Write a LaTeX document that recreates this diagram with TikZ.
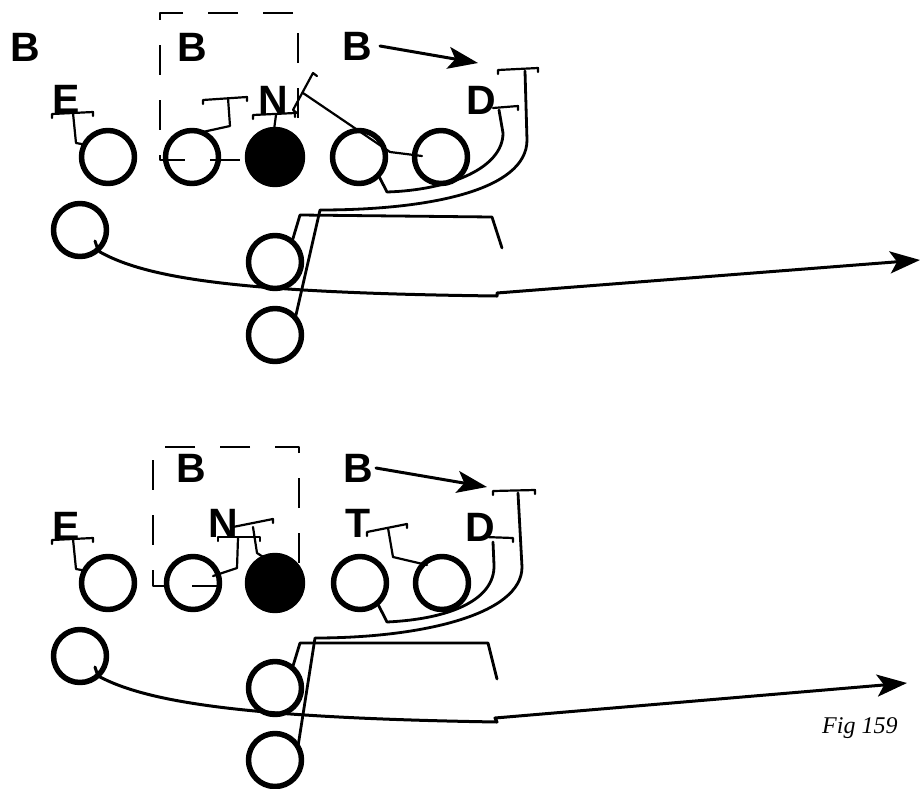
\documentclass[tikz,border=0pt]{standalone}
\usepackage{fontspec}
\setmainfont{Liberation Sans}
\newfontfamily\figfont{Liberation Serif}
\usetikzlibrary{arrows.meta}

\begin{document}
\begin{tikzpicture}[x=1pt, y=-1pt, line cap=round, line join=round,
  player/.style={circle, draw, line width=5.5pt, minimum size=53pt, inner sep=0pt, outer sep=0pt},
  ctr/.style={player, fill=black, minimum size=55pt},
  lbl/.style={inner sep=0pt, font=\fontsize{41}{49}\selectfont\bfseries},
  zone/.style={line width=2.2pt, line cap=butt, dash pattern=on 30pt off 25pt},
  blk/.style={line width=2.2pt},
  route/.style={line width=2.8pt},
  go/.style={line width=3pt, -{Stealth[length=30pt, width=22pt, inset=7pt]}}]

  %% ==== upper play ====
  \draw[zone] (298,118) -- (298,13) -- (160,13) -- (160,160) -- (247,160);

  % offence
  \node[player] (le1) at (108,157) {};
  \node[player] (lg1) at (192,157) {};
  \node[ctr]    (c1)  at (275,157) {};
  \node[player] (rg1) at (359,157) {};
  \node[player] (rt1) at (441,157) {};
  \node[player] (hb1) at (80,230) {};
  \node[player] (qb1) at (275,262) {};
  \node[player] (fb1) at (275,335) {};

  % defence
  \node[lbl] (bl1) at (25,47) {B};
  \node[lbl] (bm1) at (192,47) {B};
  \node[lbl] (br1) at (357,46) {B};
  \node[lbl] (e1)  at (66,99) {E};
  \node[lbl] (n1)  at (273,100) {N};
  \node[lbl] (d1)  at (481,100) {D};
  \coordinate (bgo1) at (478,63);
  \draw[go] ([xshift=8pt]br1.east) -- (bgo1);

  % blocks
  \draw[blk] (le1.152) -- (76,143) -- (73,113);
  \draw[blk] (52,118) -- (52,114) -- (93,112) -- (93,116);
  \draw[blk] (lg1.69) -- (230,126) -- (228,98);
  \draw[blk] (203,104) -- (203,100) -- (247,97) -- (247,101);
  \draw[blk] (c1.92) -- (276,115);
  \draw[blk] (253,119) -- (253,115) -- (295,113) -- (295,117);
  \draw[blk] (422,156) -- (390,152) -- (303,93);
  \draw[blk] (297,113) -- (293,110) -- (313,73) -- (317,76);

  % pulling guard on D
  \draw[route] (rg1.-43) -- (387,192) .. controls (450,190) and (503,168) .. (503,133) -- (499,110);
  \draw[blk] (493,108) -- (518,106) -- (518,110);

  % fullback around
  \draw[blk] (498,74) -- (498,70) -- (538,68) -- (538,72);
  \draw[route] (fb1.40) -- (320,210) .. controls (430,210) and (527,190) .. (527,140) -- (525,71);

  % qb
  \draw[route] (qb1.50) -- (300,215) -- (492,217) -- (502,248);

  % halfback sweep
  \draw[go] (95,241) -- (97,247) -- (100,252) .. controls (150,280) and (250,293) .. (497,296)
    -- (497,293) -- (920,260);

  %% ==== lower play ====
  \draw[zone] (299,563) -- (299,447) -- (153,447) -- (153,586) -- (247,586);

  \node[player] (le2) at (108,583) {};
  \node[player] (lg2) at (193,583) {};
  \node[ctr]    (c2)  at (275,583) {};
  \node[player] (rg2) at (360,583) {};
  \node[player] (rt2) at (442,583) {};
  \node[player] (hb2) at (80,656) {};
  \node[player] (qb2) at (275,688) {};
  \node[player] (fb2) at (275,760) {};

  \node[lbl] (bm2) at (191,468) {B};
  \node[lbl] (br2) at (358,468) {B};
  \node[lbl] (e2)  at (66,526) {E};
  \node[lbl] (n2)  at (223,523) {N};
  \node[lbl] (t2)  at (358,523) {T};
  \node[lbl] (d2)  at (480,527) {D};
  \coordinate (bgo2) at (487,487);
  \draw[go] ([xshift=3pt]br2.east) -- (bgo2);

  \draw[blk] (le2.152) -- (76,569) -- (73,539);
  \draw[blk] (52,544) -- (52,540) -- (93,538) -- (93,542);
  \draw[blk] (213,576) -- (237,568) -- (238,538);
  \draw[blk] (218,541) -- (218,537) -- (260,537) -- (260,541);
  \draw[blk] (c2.113) -- (257,553) -- (253,527);
  \draw[blk] (233,531) -- (233,527) -- (273,519) -- (273,523);
  \draw[blk] (427,565) -- (393,557) -- (388,528);
  \draw[blk] (367,536) -- (367,532) -- (407,524) -- (407,528);

  \draw[route] (rg2.-49) -- (387,622) .. controls (450,619) and (495,600) .. (494,565) -- (493,542);
  \draw[blk] (485,537) -- (513,538) -- (513,542);

  \draw[blk] (493,495) -- (493,491) -- (535,490) -- (535,494);
  \draw[route] (fb2.30) -- (315,638) .. controls (420,638) and (522,615) .. (522,567) -- (518,493);

  \draw[route] (qb2.49) -- (300,643) -- (488,643) -- (497,679);

  \draw[go] (95,667) -- (97,673) -- (100,677) .. controls (150,703) and (250,718) .. (497,722)
    -- (495,718) -- (907,683);

  \node[anchor=base west, inner sep=0pt, font=\figfont\itshape\fontsize{24}{28}\selectfont] (fig) at (822,733) {Fig 159};

  \pgfresetboundingbox
  \path[use as bounding box] (0,0) rectangle (922,788);
\end{tikzpicture}
\end{document}
